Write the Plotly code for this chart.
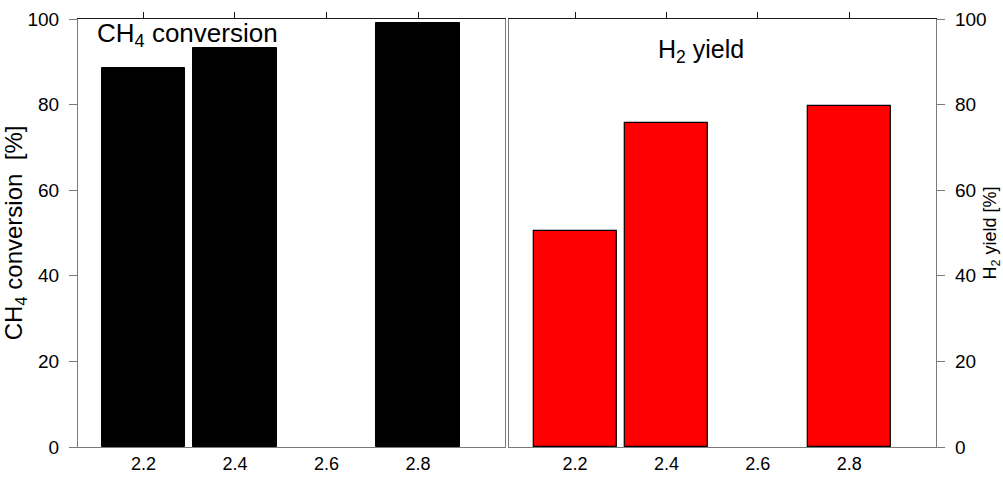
import plotly.graph_objects as go

# Reactor results at three operating points
ratio = [2.2, 2.4, 2.8]
ch4_conversion = [88.5, 93.2, 99.0]
h2_yield = [50.5, 75.8, 79.6]

x_ticks = [2.2, 2.4, 2.6, 2.8]
x_tick_text = ["2.2", "2.4", "2.6", "2.8"]
y_ticks = [0, 20, 40, 60, 80, 100]

FONT = "Liberation Sans, Arial, sans-serif"
DARK = "#1a1a1a"
GREY = "#7a7a7a"
BAR_W = 0.182

fig = go.Figure()

fig.add_trace(go.Bar(
    x=ratio, y=ch4_conversion, width=BAR_W,
    marker=dict(color="black", line=dict(color="black", width=1)),
    xaxis="x", yaxis="y", showlegend=False,
))
fig.add_trace(go.Bar(
    x=ratio, y=h2_yield, width=BAR_W,
    marker=dict(color="#ff0000", line=dict(color="black", width=1.2)),
    xaxis="x2", yaxis="y2", showlegend=False,
))
# invisible traces carrying the top tick axes
fig.add_trace(go.Scatter(x=[2.2], y=[0], mode="markers", marker=dict(opacity=0),
                         xaxis="x3", yaxis="y", showlegend=False, hoverinfo="skip"))
fig.add_trace(go.Scatter(x=[2.2], y=[0], mode="markers", marker=dict(opacity=0),
                         xaxis="x4", yaxis="y2", showlegend=False, hoverinfo="skip"))

left_range = [2.057, 2.991]
right_range = [2.055, 2.99]
dom_left = [0, 0.4982]
dom_right = [0.5022, 1]

common_x = dict(
    tickvals=x_ticks, ticktext=x_tick_text, showgrid=False, zeroline=False,
    tickfont=dict(size=18, color="black", family=FONT), automargin=False,
)
top_x = dict(
    tickvals=x_ticks, showgrid=False, zeroline=False, ticks="outside",
    ticklen=6, tickwidth=1, tickcolor=DARK, showticklabels=False,
    showline=True, linecolor=DARK, linewidth=1, side="top", automargin=False,
)
common_y = dict(
    range=[0, 100], tickvals=y_ticks, showgrid=False, zeroline=False,
    ticks="outside", ticklen=8, tickwidth=1, tickcolor=GREY,
    showline=True, linecolor=GREY, linewidth=1.2, mirror=True,
    tickfont=dict(size=19, color="black", family=FONT), automargin=False,
)

fig.update_layout(
    width=1003, height=480,
    margin=dict(l=78, r=67, t=19, b=33),
    paper_bgcolor="white", plot_bgcolor="white",
    font=dict(family=FONT, color="black"),
    bargap=0,
    xaxis=dict(domain=dom_left, range=left_range, anchor="y", ticks="",
               showline=True, linecolor=GREY, linewidth=1, **common_x),
    xaxis2=dict(domain=dom_right, range=right_range, anchor="y2", ticks="",
                showline=True, linecolor=GREY, linewidth=1, **common_x),
    xaxis3=dict(domain=dom_left, range=left_range, anchor="y", overlaying="x", **top_x),
    xaxis4=dict(domain=dom_right, range=right_range, anchor="y2", overlaying="x2", **top_x),
    yaxis=dict(domain=[0, 1], anchor="x", side="left", ticklabelstandoff=6,
               title=dict(text="CH<sub>4</sub> conversion&nbsp; [%]",
                          font=dict(size=24, family=FONT), standoff=4),
               **common_y),
    yaxis2=dict(domain=[0, 1], anchor="x2", side="right", ticklabelstandoff=6,
                title=dict(text="H<sub>2</sub> yield [%]",
                           font=dict(size=18, family=FONT), standoff=2),
                **common_y),
)

fig.add_annotation(
    text="CH<sub>4</sub> conversion", xref="x", yref="y", x=2.297, y=96.3,
    xanchor="center", yanchor="middle", showarrow=False,
    font=dict(size=26, family=FONT, color="black"),
)
fig.add_annotation(
    text="H<sub>2</sub> yield", xref="x2", yref="y2", x=2.476, y=92.6,
    xanchor="center", yanchor="middle", showarrow=False,
    font=dict(size=25, family=FONT, color="black"),
)

fig.write_html("out.html")
